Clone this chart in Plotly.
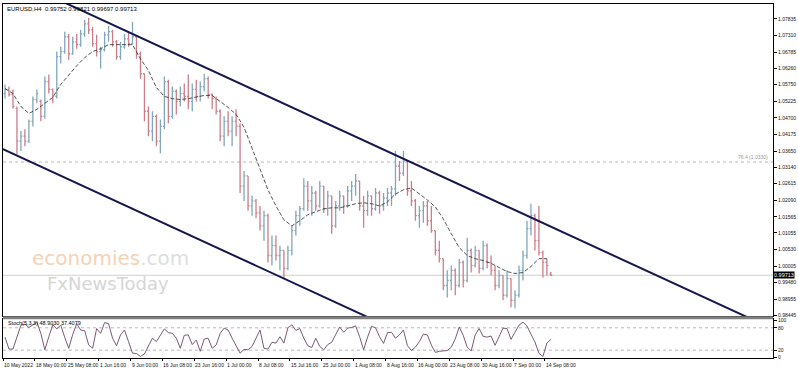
import plotly.graph_objects as go

# ---------------- data (EURUSD H4, sampled every 4th bar) ----------------
opens = [
    1.0547, 1.0560, 1.0544, 1.0500, 1.0396, 1.0412, 1.0396, 1.0459, 1.0528, 1.0522,
    1.0475, 1.0585, 1.0560, 1.0538, 1.0664, 1.0680, 1.0727, 1.0673, 1.0711, 1.0702,
    1.0736, 1.0768, 1.0749, 1.0705, 1.0680, 1.0686, 1.0733, 1.0743, 1.0711, 1.0664,
    1.0695, 1.0720, 1.0705, 1.0727, 1.0673, 1.0610, 1.0491, 1.0428, 1.0475, 1.0396,
    1.0443, 1.0585, 1.0475, 1.0554, 1.0522, 1.0547, 1.0538, 1.0522, 1.0560, 1.0538,
    1.0569, 1.0594, 1.0544, 1.0531, 1.0491, 1.0412, 1.0459, 1.0428, 1.0459, 1.0443,
    1.0254, 1.0286, 1.0191, 1.0207, 1.0169, 1.0128, 1.0160, 1.0034, 1.0065, 1.0034,
    1.0050, 0.9993, 1.0050, 1.0113, 1.0160, 1.0182, 1.0254, 1.0207, 1.0232, 1.0191,
    1.0254, 1.0182, 1.0223, 1.0128, 1.0191, 1.0223, 1.0191, 1.0239, 1.0254, 1.0270,
    1.0191, 1.0176, 1.0223, 1.0182, 1.0232, 1.0191, 1.0216, 1.0232, 1.0245, 1.0317,
    1.0295, 1.0333, 1.0239, 1.0207, 1.0160, 1.0176, 1.0191, 1.0144, 1.0113, 1.0050,
    1.0024, 0.9939, 0.9955, 0.9987, 0.9939, 1.0012, 0.9955, 1.0050, 1.0002, 1.0050,
    0.9993, 1.0065, 1.0012, 0.9987, 0.9939, 0.9971, 0.9908, 0.9961, 0.9892, 0.9908,
    0.9987, 1.0034, 1.0119, 1.0160, 1.0081, 1.0043, 1.0012, 0.99752,
]
highs = [
    1.0576, 1.0569, 1.0560, 1.0506, 1.0428, 1.0434, 1.0465, 1.0538, 1.0560, 1.0528,
    1.0601, 1.0607, 1.0563, 1.0680, 1.0695, 1.0743, 1.0736, 1.0727, 1.0736, 1.0749,
    1.0780, 1.0787, 1.0758, 1.0733, 1.0695, 1.0743, 1.0761, 1.0749, 1.0717, 1.0711,
    1.0736, 1.0743, 1.0774, 1.0727, 1.0680, 1.0610, 1.0506, 1.0491, 1.0481, 1.0465,
    1.0601, 1.0591, 1.0569, 1.0560, 1.0569, 1.0579, 1.0607, 1.0579, 1.0591, 1.0585,
    1.0610, 1.0601, 1.0547, 1.0538, 1.0497, 1.0475, 1.0491, 1.0475, 1.0497, 1.0453,
    1.0302, 1.0286, 1.0223, 1.0213, 1.0191, 1.0176, 1.0166, 1.0097, 1.0097, 1.0065,
    1.0050, 1.0065, 1.0128, 1.0176, 1.0191, 1.0279, 1.0270, 1.0254, 1.0239, 1.0270,
    1.0254, 1.0239, 1.0223, 1.0207, 1.0239, 1.0223, 1.0254, 1.0270, 1.0292, 1.0270,
    1.0223, 1.0239, 1.0223, 1.0248, 1.0239, 1.0232, 1.0248, 1.0254, 1.0365, 1.0333,
    1.0365, 1.0333, 1.0270, 1.0213, 1.0191, 1.0207, 1.0207, 1.0191, 1.0113, 1.0081,
    1.0024, 0.9987, 1.0002, 0.9993, 1.0024, 1.0018, 1.0090, 1.0056, 1.0065, 1.0050,
    1.0081, 1.0072, 1.0034, 1.0002, 0.9987, 0.9971, 0.9987, 0.9961, 0.9924, 1.0002,
    1.0050, 1.0144, 1.0198, 1.0166, 1.0191, 1.0050, 1.0024, 0.99821,
]
lows = [
    1.0531, 1.0538, 1.0500, 1.0355, 1.0365, 1.0380, 1.0390, 1.0443, 1.0516, 1.0459,
    1.0468, 1.0547, 1.0516, 1.0531, 1.0642, 1.0673, 1.0654, 1.0670, 1.0689, 1.0695,
    1.0727, 1.0736, 1.0695, 1.0664, 1.0626, 1.0680, 1.0711, 1.0695, 1.0654, 1.0654,
    1.0689, 1.0695, 1.0702, 1.0657, 1.0594, 1.0459, 1.0412, 1.0396, 1.0380, 1.0358,
    1.0434, 1.0453, 1.0468, 1.0481, 1.0506, 1.0522, 1.0497, 1.0491, 1.0522, 1.0522,
    1.0554, 1.0531, 1.0497, 1.0481, 1.0396, 1.0380, 1.0412, 1.0380, 1.0412, 1.0232,
    1.0207, 1.0176, 1.0160, 1.0153, 1.0113, 1.0081, 1.0012, 1.0002, 1.0018, 0.9987,
    0.9961, 0.9987, 1.0034, 1.0097, 1.0128, 1.0176, 1.0176, 1.0160, 1.0176, 1.0185,
    1.0169, 1.0160, 1.0103, 1.0122, 1.0176, 1.0166, 1.0185, 1.0207, 1.0223, 1.0176,
    1.0122, 1.0160, 1.0160, 1.0176, 1.0166, 1.0176, 1.0191, 1.0191, 1.0223, 1.0270,
    1.0286, 1.0223, 1.0191, 1.0144, 1.0122, 1.0138, 1.0128, 1.0106, 1.0034, 1.0012,
    0.9924, 0.9901, 0.9924, 0.9908, 0.9933, 0.9933, 0.9949, 0.9980, 0.9996, 0.9977,
    0.9987, 0.9993, 0.9971, 0.9924, 0.9930, 0.9892, 0.9901, 0.9870, 0.9867, 0.9901,
    0.9955, 1.0024, 1.0097, 1.0050, 1.0034, 0.9964, 0.9971, 0.99697,
]
closes = [
    1.0560, 1.0544, 1.0506, 1.0396, 1.0412, 1.0396, 1.0459, 1.0528, 1.0547, 1.0475,
    1.0585, 1.0560, 1.0538, 1.0664, 1.0680, 1.0727, 1.0673, 1.0711, 1.0702, 1.0736,
    1.0768, 1.0749, 1.0705, 1.0680, 1.0686, 1.0733, 1.0743, 1.0711, 1.0664, 1.0695,
    1.0720, 1.0705, 1.0727, 1.0673, 1.0610, 1.0491, 1.0428, 1.0475, 1.0396, 1.0443,
    1.0585, 1.0475, 1.0554, 1.0522, 1.0547, 1.0538, 1.0522, 1.0560, 1.0538, 1.0569,
    1.0594, 1.0544, 1.0531, 1.0491, 1.0412, 1.0459, 1.0428, 1.0459, 1.0443, 1.0254,
    1.0286, 1.0191, 1.0207, 1.0169, 1.0128, 1.0160, 1.0034, 1.0065, 1.0034, 1.0050,
    0.9993, 1.0050, 1.0113, 1.0160, 1.0182, 1.0254, 1.0207, 1.0232, 1.0191, 1.0254,
    1.0182, 1.0223, 1.0128, 1.0191, 1.0223, 1.0191, 1.0239, 1.0254, 1.0270, 1.0191,
    1.0176, 1.0223, 1.0182, 1.0232, 1.0191, 1.0216, 1.0232, 1.0245, 1.0317, 1.0295,
    1.0333, 1.0239, 1.0207, 1.0160, 1.0176, 1.0191, 1.0144, 1.0113, 1.0050, 1.0024,
    0.9939, 0.9955, 0.9987, 0.9939, 1.0012, 0.9955, 1.0050, 1.0002, 1.0050, 0.9993,
    1.0065, 1.0012, 0.9987, 0.9939, 0.9971, 0.9908, 0.9961, 0.9892, 0.9908, 0.9987,
    1.0034, 1.0119, 1.0160, 1.0081, 1.0043, 1.0012, 1.0002, 0.99713,
]
# moving average, one value every 2 sampled bars
ma_values = [
    1.0563, 1.0547, 1.0506, 1.0484, 1.0497, 1.0516, 1.0535, 1.0576, 1.0607, 1.0635,
    1.0661, 1.0680, 1.0689, 1.0702, 1.0702, 1.0702, 1.0702, 1.0657, 1.0620, 1.0566,
    1.0538, 1.0531, 1.0528, 1.0531, 1.0535, 1.0541, 1.0541, 1.0522, 1.0503, 1.0481,
    1.0440, 1.0374, 1.0308, 1.0242, 1.0191, 1.0147, 1.0128, 1.0144, 1.0163, 1.0172,
    1.0182, 1.0185, 1.0185, 1.0191, 1.0198, 1.0201, 1.0198, 1.0191, 1.0204, 1.0229,
    1.0242, 1.0248, 1.0229, 1.0210, 1.0188, 1.0150, 1.0103, 1.0059, 1.0034, 1.0024,
    1.0018, 1.0009, 0.9996, 0.9983, 0.9977, 0.9980, 0.9999, 1.0024, 1.0024,
]
stoch_main = [
    55, 23, 23, 58, 87, 90, 81, 88, 95, 65,
    21, 56, 88, 77, 87, 54, 25, 62, 91, 74,
    72, 34, 25, 78, 65, 94, 91, 52, 32, 61,
    74, 43, 12, 11, 3, 10, 30, 52, 43, 61,
    77, 67, 65, 52, 25, 60, 61, 35, 47, 17,
    50, 52, 25, 34, 65, 79, 74, 52, 33, 12,
    22, 21, 30, 53, 74, 25, 23, 41, 39, 56,
    39, 80, 88, 73, 78, 52, 32, 27, 52, 30,
    21, 35, 41, 62, 82, 68, 79, 81, 85, 56,
    21, 55, 84, 80, 56, 38, 67, 68, 52, 61,
    74, 32, 19, 28, 43, 63, 61, 34, 14, 17,
    19, 19, 28, 50, 82, 60, 28, 18, 61, 78,
    57, 55, 58, 33, 56, 79, 78, 49, 68, 87,
    95, 85, 63, 42, 12, 3, 39, 49,
]
date_labels = [
    "10 May 2022", "18 May 00:00", "25 May 08:00", "1 Jun 16:00", "9 Jun 00:00",
    "16 Jun 08:00", "23 Jun 16:00", "1 Jul 00:00", "8 Jul 08:00", "15 Jul 16:00",
    "25 Jul 00:00", "1 Aug 08:00", "8 Aug 16:00", "16 Aug 00:00", "23 Aug 08:00",
    "30 Aug 16:00", "7 Sep 00:00", "14 Sep 08:00",
]
date_label_bars = [8 * k - 0.5 for k in range(len(date_labels))]
price_ticks = [1.07835, 1.07310, 1.06785, 1.06260, 1.05750, 1.05225, 1.04700,
               1.04175, 1.03650, 1.03140, 1.02615, 1.02090, 1.01565, 1.01055,
               1.00530, 1.00005, 0.99480, 0.98955, 0.98445]
stoch_ticks = [0, 20, 80, 100]
channel_upper_x = [-0.5, 192.75]
channel_upper_y = [1.0925, 0.9801]
channel_lower_x = [-0.5, 100.0]
channel_lower_y = [1.0371, 0.97865]
fib_level = 1.0330
fib_text = "76.4 (1.0330)"
bid_price = 0.99713
header = "EURUSD,H4  0.99752 0.99821 0.99697 0.99713"
stoch_label = "Stoch(5,3,3) 48.9030 37.4079"

bar_index = list(range(len(closes)))
ma_index = list(range(0, 2 * len(ma_values), 2))

BULL = "#80a6bb"
BEAR = "#cc7d88"
FONT = "Liberation Sans"
X_RANGE = [-0.5, 192.75]
MAIN_DOM = [0.118, 1.0]
STO_DOM = [0.0, 0.1096]

fig = go.Figure()
fig.add_trace(go.Ohlc(
    x=bar_index, open=opens, high=highs, low=lows, close=closes,
    increasing=dict(line=dict(color=BULL, width=1.3)),
    decreasing=dict(line=dict(color=BEAR, width=1.3)),
    tickwidth=0.35, xaxis="x", yaxis="y", showlegend=False, hoverinfo="skip"))
fig.add_trace(go.Scatter(
    x=ma_index, y=ma_values, mode="lines", xaxis="x", yaxis="y",
    line=dict(color="#2a2a2a", width=0.8, dash="4px,2px"), showlegend=False, hoverinfo="skip"))
fig.add_trace(go.Scatter(
    x=channel_upper_x, y=channel_upper_y, mode="lines", xaxis="x", yaxis="y",
    line=dict(color="#16164e", width=2), showlegend=False, hoverinfo="skip"))
fig.add_trace(go.Scatter(
    x=channel_lower_x, y=channel_lower_y, mode="lines", xaxis="x", yaxis="y",
    line=dict(color="#16164e", width=2), showlegend=False, hoverinfo="skip"))
fig.add_trace(go.Scatter(
    x=bar_index, y=stoch_main, mode="lines", xaxis="x2", yaxis="y2",
    line=dict(color="#7a5a76", width=1), showlegend=False, hoverinfo="skip"))

shapes = [
    dict(type="line", xref="paper", x0=0, x1=1, yref="y", y0=fib_level, y1=fib_level,
         line=dict(color="#b8b8b8", width=1, dash="dot"), layer="below"),
    dict(type="line", xref="paper", x0=0, x1=1, yref="y", y0=bid_price, y1=bid_price,
         line=dict(color="#d0d0d0", width=1), layer="below"),
    dict(type="line", xref="paper", x0=0, x1=1, yref="y2", y0=80, y1=80,
         line=dict(color="#b8b8b8", width=1, dash="dot"), layer="below"),
    dict(type="line", xref="paper", x0=0, x1=1, yref="y2", y0=20, y1=20,
         line=dict(color="#b8b8b8", width=1, dash="dot"), layer="below"),
    dict(type="rect", xref="paper", x0=0, x1=1, yref="paper", y0=STO_DOM[1], y1=MAIN_DOM[0],
         fillcolor="#808080", line=dict(width=0)),
]

annotations = [
    dict(text=header, xref="paper", yref="paper", x=0.003, y=0.985, xanchor="left",
         yanchor="middle", showarrow=False, font=dict(family=FONT, size=6, color="#000")),
    dict(text=stoch_label, xref="paper", yref="paper", x=0.004, y=0.098, xanchor="left",
         yanchor="middle", showarrow=False, font=dict(family=FONT, size=5.5, color="#000")),
    dict(text=fib_text, xref="paper", yref="y", x=0.996, y=fib_level, xanchor="right",
         yanchor="bottom", showarrow=False, font=dict(family=FONT, size=5, color="#9a9a9a")),
    dict(text=f"{bid_price:.5f}", xref="paper", yref="y", x=1.0, y=bid_price, xanchor="left",
         yanchor="middle", showarrow=False, bgcolor="#000", borderpad=0,
         font=dict(family=FONT, size=5.5, color="#fff")),
    dict(text="<span style='color:#f6d2b6'>economies</span><span style='color:#dedede'>.com</span>",
         xref="paper", yref="paper", x=0.140, y=0.2444, xanchor="center", yanchor="bottom",
         showarrow=False, borderpad=0, font=dict(family="DejaVu Sans", size=20)),
    dict(text="FxNewsToday", xref="paper", yref="paper", x=0.137, y=0.2416, xanchor="center",
         yanchor="top", showarrow=False, borderpad=0,
         font=dict(family="DejaVu Sans", size=18, color="#d6d6d6")),
]
for pos, lab in zip(date_label_bars, date_labels):
    annotations.append(dict(text=lab, xref="x2", yref="paper", x=pos, y=-0.02,
                            xanchor="left", yanchor="middle", showarrow=False, borderpad=0,
                            font=dict(family=FONT, size=5, color="#111")))

axis_common = dict(showgrid=False, zeroline=False, showline=True, linecolor="#000",
                   linewidth=1, mirror=True)
fig.update_layout(
    width=798, height=372, margin=dict(l=2, r=23, t=2, b=14),
    paper_bgcolor="#fff", plot_bgcolor="#fff", showlegend=False,
    xaxis=dict(domain=[0, 1], range=X_RANGE, anchor="y", showticklabels=False,
               rangeslider=dict(visible=False), **axis_common),
    xaxis2=dict(domain=[0, 1], range=X_RANGE, anchor="y2", matches="x",
                tickvals=date_label_bars, ticks="outside", ticklen=2, tickcolor="#000",
                showticklabels=False, **axis_common),
    yaxis=dict(domain=MAIN_DOM, range=[0.98416, 1.08307], side="right", anchor="x",
               tickvals=price_ticks, ticktext=[f"{v:.5f}" for v in price_ticks],
               ticks="outside", ticklen=3, tickcolor="#000",
               tickfont=dict(family=FONT, size=5, color="#111"), **axis_common),
    yaxis2=dict(domain=STO_DOM, range=[-1, 103], side="right", anchor="x2",
                tickvals=stoch_ticks, ticktext=[str(v) for v in stoch_ticks],
                ticks="outside", ticklen=3, tickcolor="#000",
                tickfont=dict(family=FONT, size=5, color="#111"), **axis_common),
    shapes=shapes, annotations=annotations,
)
fig.write_html("out.html")
